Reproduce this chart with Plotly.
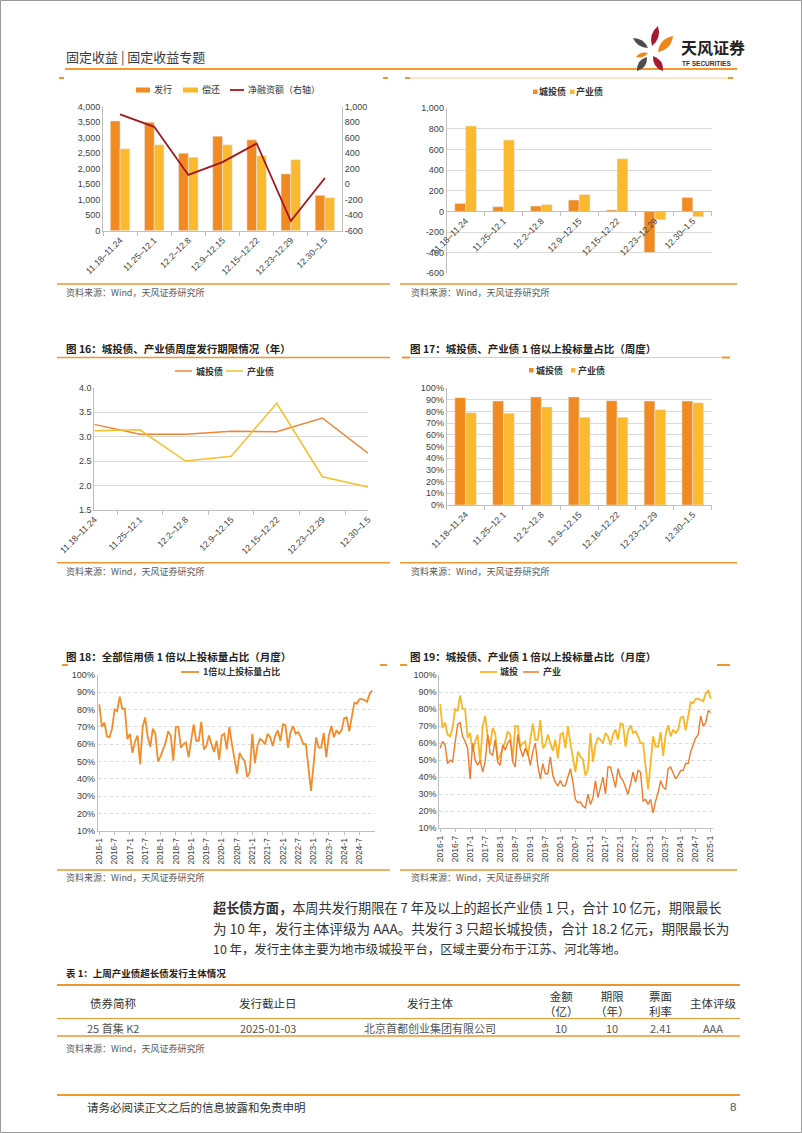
import plotly.graph_objects as go

W, H = 802, 1133
def fx(p): return p / W
def fy(p): return 1 - p / H

NUM = "Liberation Sans, Noto Sans CJK SC, sans-serif"
CJK = "Noto Sans CJK SC, Noto Sans, sans-serif"

C_ORANGE = "#F08A21"
C_YELLOW = "#FBB92F"
C_RED = "#A3161D"
C_LINE_OR = "#EE8434"
C_LINE_YE = "#F9BE2A"
C_AXIS = "#BFBFBF"
C_GRID = "#D9D9D9"
C_TICK = "#404040"
C_RULE = "#F0962E"
C_SRC = "#595959"

# ---------------- data ----------------
weeks_a = ["11.18–11.24", "11.25–12.1", "12.2–12.8", "12.9–12.15", "12.15–12.22", "12.23–12.29", "12.30–1.5"]
weeks_b = ["11.18–11.24", "11.25–12.1", "12.2–12.8", "12.9–12.15", "12.16–12.22", "12.23–12.29", "12.30–1.5"]

issue = [3540, 3500, 2500, 3050, 2930, 1830, 1140]
repay = [2640, 2770, 2370, 2770, 2420, 2290, 1065]
net_fin = [900, 740, 120, 285, 525, -475, 80]

ct_net = [77, 45, 52, 110, 13, -398, 136]
cy_net = [828, 692, 68, 165, 511, -81, -52]

ct_term = [3.25, 3.05, 3.05, 3.11, 3.10, 3.38, 2.66]
cy_term = [3.12, 3.14, 2.50, 2.60, 3.68, 2.18, 1.97]

ct_ratio_w = [92.0, 89.1, 92.6, 92.6, 89.4, 89.1, 89.1]
cy_ratio_w = [79.1, 78.6, 84.0, 75.1, 75.1, 81.7, 87.7]

months = [f"{y}-{m}" for y in range(2016, 2026) for m in range(1, 13)][:109]

all_ratio_m = [
    83, 70, 72.5, 64.5, 64, 69, 80, 79, 87.5, 80.5, 80.5, 63,
    66, 55, 61.5, 65, 48.5, 70, 75.5, 64, 58.5, 69, 66, 50,
    53, 57, 61, 67.5, 65, 50.5, 70, 70, 58, 60, 61, 52.5,
    61, 71.5, 62, 62, 73, 57, 59, 65, 60, 55.5, 62, 51,
    65, 66, 57, 70, 60, 52, 43, 55, 52, 50.5, 41, 44,
    66, 49, 59, 63, 62, 60, 66, 64, 59, 65, 68, 62,
    71.5, 71, 58, 67, 70.5, 66, 67, 64, 60, 60, 46, 33,
    48, 64, 58, 58, 66.5, 52.5, 65, 70.5, 64, 68, 66, 68,
    75, 75.5, 67.5, 76, 84, 83.5, 86, 86, 85.5, 84.5, 89, 91,
]

ct_ratio_m = [
    83, 69, 72, 65, 64, 69, 80, 79, 88, 80, 80, 63,
    66, 55, 61, 65, 48.5, 70, 76, 64, 58.5, 69, 66, 50,
    53, 57, 61, 67, 65, 50.5, 70, 70, 58, 60, 61, 52.5,
    61, 71.5, 62, 62, 73.5, 57, 59, 65, 60, 55.5, 62, 51,
    65, 66, 57, 70, 60, 52, 43, 55, 52, 50.5, 41, 44.5,
    66, 49, 59, 63, 62, 60, 66, 64, 59, 65, 68, 62,
    71.5, 71, 58, 67, 70.5, 66, 67, 64, 60, 60, 46, 33,
    48, 64, 58, 58, 66.5, 52.5, 65, 70.5, 64, 68, 66, 68,
    75, 75.5, 67.5, 76, 84, 83.5, 86, 86, 85.5, 84.5, 89, 91,
    86,
]

cy_ratio_m = [
    57, 61, 59, 48, 50, 49, 60, 71, 72, 64, 61, 57,
    39, 60, 50, 47, 50, 43, 49, 65, 54, 53, 62, 49,
    47, 59, 56, 60, 62, 49, 46, 65, 57, 52, 57, 54,
    47, 55, 60, 47, 39, 48, 42, 42, 52, 41, 37, 35,
    38, 35, 35, 40, 45, 37, 27, 25, 25.5, 23, 22, 30,
    24, 28, 38, 28, 35, 40, 30, 46, 46, 40, 34, 45,
    40, 38, 34, 30, 36, 43, 37, 44, 43, 26, 27, 24,
    27, 19, 26, 31, 38, 34, 33, 45, 46, 42, 39, 41,
    44, 44, 48, 48, 55, 59, 63, 65, 76, 70, 72, 79,
    78,
]

left_ticks1 = [0, 500, 1000, 1500, 2000, 2500, 3000, 3500, 4000]
right_ticks1 = [-600, -400, -200, 0, 200, 400, 600, 800, 1000]
ticks2 = [-600, -400, -200, 0, 200, 400, 600, 800, 1000]

table_head = ["债券简称", "发行截止日", "发行主体", "金额<br>（亿）", "期限<br>（年）", "票面<br>利率", "主体评级"]
table_row = ["25 首集 K2", "2025-01-03", "北京首都创业集团有限公司", "10", "10", "2.41", "AAA"]

# ---------------- traces ----------------
fig = go.Figure()
fig.add_trace(go.Bar(x=weeks_a, y=issue, marker_color=C_ORANGE, xaxis="x", yaxis="y", name="发行"))
fig.add_trace(go.Bar(x=weeks_a, y=repay, marker_color=C_YELLOW, xaxis="x", yaxis="y", name="偿还"))
fig.add_trace(go.Scatter(x=weeks_a, y=net_fin, mode="lines", line=dict(color=C_RED, width=1.8),
                         xaxis="x", yaxis="y2", name="净融资额（右轴）"))

fig.add_trace(go.Bar(x=weeks_a, y=ct_net, marker_color=C_ORANGE, xaxis="x2", yaxis="y3", name="城投债"))
fig.add_trace(go.Bar(x=weeks_a, y=cy_net, marker_color=C_YELLOW, xaxis="x2", yaxis="y3", name="产业债"))

fig.add_trace(go.Scatter(x=weeks_a, y=ct_term, mode="lines", line=dict(color=C_LINE_OR, width=1.5),
                         xaxis="x3", yaxis="y4", name="城投债"))
fig.add_trace(go.Scatter(x=weeks_a, y=cy_term, mode="lines", line=dict(color=C_LINE_YE, width=1.5),
                         xaxis="x3", yaxis="y4", name="产业债"))

fig.add_trace(go.Bar(x=weeks_b, y=ct_ratio_w, marker_color=C_ORANGE, xaxis="x4", yaxis="y5", name="城投债"))
fig.add_trace(go.Bar(x=weeks_b, y=cy_ratio_w, marker_color=C_YELLOW, xaxis="x4", yaxis="y5", name="产业债"))

fig.add_trace(go.Scatter(x=months[:len(all_ratio_m)], y=all_ratio_m, mode="lines",
                         line=dict(color="#F28C28", width=1.8), xaxis="x5", yaxis="y6", name="1倍以上投标量占比"))

fig.add_trace(go.Scatter(x=months[:len(ct_ratio_m)], y=ct_ratio_m, mode="lines",
                         line=dict(color="#F9B625", width=1.8), xaxis="x6", yaxis="y7", name="城投"))
fig.add_trace(go.Scatter(x=months[:len(cy_ratio_m)], y=cy_ratio_m, mode="lines",
                         line=dict(color="#EE7B2A", width=1.4), xaxis="x6", yaxis="y7", name="产业"))

# ---------------- axes ----------------
def xax(d0, d1, anchor, **kw):
    base = dict(domain=[fx(d0), fx(d1)], anchor=anchor, type="category", showgrid=False, zeroline=False,
                showline=True, linecolor=C_AXIS, linewidth=1, automargin=False,
                tickfont=dict(size=8.8, color=C_TICK, family=NUM),
                ticks="outside", ticklen=4, tickcolor=C_AXIS)
    base.update(kw)
    return base

def yax(top, bottom, anchor, **kw):
    base = dict(domain=[fy(bottom), fy(top)], anchor=anchor, zeroline=False, showline=True,
                linecolor=C_AXIS, linewidth=1, ticks="", automargin=False,
                tickfont=dict(size=9, color=C_TICK, family=NUM), showgrid=False)
    base.update(kw)
    return base

y2_rng = [-600, 1000]
c2_top, c2_bot = 108.3, 273.3
zero_px = c2_bot - (0 - y2_rng[0]) / (y2_rng[1] - y2_rng[0]) * (c2_bot - c2_top)

layout = dict(
    width=W, height=H, margin=dict(l=0, r=0, t=0, b=0, pad=0, autoexpand=False),
    paper_bgcolor="white", plot_bgcolor="rgba(0,0,0,0)",
    showlegend=False, barmode="group", bargap=0.43, bargroupgap=0,
    font=dict(family=NUM, size=9, color=C_TICK),
    # chart 1
    xaxis=xax(103, 342, "y", tickangle=-45, tickson="boundaries"),
    yaxis=yax(106.7, 230.7, "x", range=[0, 4000], tickvals=left_ticks1,
              ticktext=[f"{v:,}" for v in left_ticks1]),
    yaxis2=dict(overlaying="y", side="right", anchor="x", range=[-600, 1000], tickvals=right_ticks1,
                ticktext=[f"{v:,}" for v in right_ticks1], showline=True, linecolor=C_AXIS,
                showgrid=False, zeroline=False, automargin=False,
                tickfont=dict(size=9, color=C_TICK, family=NUM)),
    # chart 2
    xaxis2=xax(446.7, 711.7, "free", position=fy(zero_px), tickangle=-45, tickson="boundaries"),
    yaxis3=yax(c2_top, c2_bot, "x2", range=y2_rng, tickvals=ticks2,
               ticktext=[f"{v:,}" for v in ticks2], showgrid=True, gridcolor=C_GRID),
    # chart 3
    xaxis3=xax(94.3, 368, "y4", tickangle=-45, tickson="boundaries"),
    yaxis4=yax(387.7, 510, "x3", range=[1.5, 4.0], dtick=0.5, tickformat=".1f",
               showgrid=True, gridcolor=C_GRID),
    # chart 4
    xaxis4=xax(446.7, 711.7, "y5", tickangle=-45, tickson="boundaries"),
    yaxis5=yax(388.3, 505, "x4", range=[0, 100], dtick=10, ticksuffix="%",
               showgrid=True, gridcolor=C_GRID),
    # chart 5
    xaxis5=xax(97.7, 375, "y6", tickangle=-90, range=[-0.63, 108.1], tickvals=months[0:108:6],
               ticklen=3, tickfont=dict(size=8.5, color=C_TICK, family=NUM)),
    yaxis6=yax(675, 830.7, "x5", range=[10, 100], dtick=10, ticksuffix="%",
               showgrid=True, gridcolor=C_GRID, griddash="dot"),
    # chart 6
    xaxis6=xax(439.3, 713, "y7", tickangle=-90, range=[-0.3, 108.9], tickvals=months[0:109:6],
               ticklen=3, tickfont=dict(size=8.5, color=C_TICK, family=NUM)),
    yaxis7=yax(675, 828.3, "x6", range=[10, 100], dtick=10, ticksuffix="%",
               showgrid=True, gridcolor=C_GRID, griddash="dot"),
)

shapes = []
annotations = []

def hline(x0, x1, y, color=C_RULE, w=1.5):
    shapes.append(dict(type="line", xref="paper", yref="paper", x0=fx(x0), x1=fx(x1),
                       y0=fy(y), y1=fy(y), line=dict(color=color, width=w)))

def rect(x0, x1, y0, y1, color):
    shapes.append(dict(type="rect", xref="paper", yref="paper", x0=fx(x0), x1=fx(x1),
                       y0=fy(y1), y1=fy(y0), fillcolor=color, line=dict(width=0)))

def txt(x, y, s, size=9, color="#333333", weight="normal", xanchor="left", family=CJK, yanchor="middle"):
    annotations.append(dict(x=fx(x), y=fy(y), xref="paper", yref="paper", text=s, showarrow=False,
                            xanchor=xanchor, yanchor=yanchor, align="center", borderpad=0,
                            font=dict(size=size, color=color, family=family, weight=weight)))

def leaf(p1, p2, w, color):
    (x1, y1), (x2, y2) = p1, p2
    mx, my = (x1 + x2) / 2, (y1 + y2) / 2
    dx, dy = x2 - x1, y2 - y1
    L = (dx * dx + dy * dy) ** 0.5
    nx, ny = -dy / L * w, dx / L * w
    pts = [(x1, y1), (mx + nx, my + ny), (x2, y2), (mx - nx, my - ny)]
    P = [(fx(a), fy(b)) for a, b in pts]
    path = (f"M{P[0][0]},{P[0][1]} Q{P[1][0]},{P[1][1]} {P[2][0]},{P[2][1]} "
            f"Q{P[3][0]},{P[3][1]} {P[0][0]},{P[0][1]} Z")
    shapes.append(dict(type="path", xref="paper", yref="paper", path=path, fillcolor=color,
                       line=dict(width=0)))

# page border
shapes.append(dict(type="rect", xref="paper", yref="paper", x0=fx(0.5), x1=fx(801.5), y0=fy(1132.5),
                   y1=fy(0.5), line=dict(color="#9A9A9A", width=1)))

# header
txt(65, 57, "固定收益 | 固定收益专题", size=13, color="#3A3A3A")
hline(65, 737, 69, color="#F39A2B", w=2)
leaf((652, 46), (658, 26), 7, "#A6192E")
leaf((658, 52), (673, 36), 8, "#F08519")
leaf((648, 48), (633, 38), 6, "#4D4D4F")
leaf((648, 53), (636, 57), 4, "#F08519")
leaf((647, 57), (637, 71), 7, "#4D4D4F")
leaf((653, 56), (663, 71), 7, "#A6192E")
txt(680, 47, "天风证券", size=16, color="#222222", weight="bold")
txt(681, 63, "TF SECURITIES", size=6.5, color="#333333", weight="bold", family=NUM)

# top row frame marks
hline(59, 64, 78, w=2)
hline(383, 388, 78, w=2)
hline(405, 733, 78, color="#F7C89A", w=1)
hline(405, 410, 78, w=2)
hline(728, 733, 78, w=2)

# chart 1 legend
rect(136, 150, 87.5, 92.5, C_ORANGE)
txt(153, 90, "发行", size=9)
rect(183, 198, 87.5, 92.5, C_YELLOW)
txt(201, 90, "偿还", size=9)
hline(230, 244, 90, color=C_RED, w=1.8)
txt(247, 90, "净融资额（右轴）", size=9)

# chart 2 legend
rect(533, 537.5, 89.5, 94, C_ORANGE)
txt(538, 91.7, "城投债", size=9, weight="bold")
rect(570, 574.5, 89.5, 94, C_YELLOW)
txt(575, 91.7, "产业债", size=9, weight="bold")

# sources row 1
hline(57, 390, 284)
hline(400, 737, 284)
txt(65, 292, "资料来源：Wind，天风证券研究所", size=9, color=C_SRC)
txt(410, 292, "资料来源：Wind，天风证券研究所", size=9, color=C_SRC)

# titles row 2
txt(65, 348, "图 16：城投债、产业债周度发行期限情况（年）", size=10.5, color="#222222", weight="bold")
txt(409, 348, "图 17：城投债、产业债 1 倍以上投标量占比（周度）", size=10.5, color="#222222", weight="bold")
hline(57, 390, 357.5)
hline(402, 730, 357.5, color="#F7C89A", w=1)
hline(402, 410, 357.5, w=2)
hline(722, 730, 357.5, w=2)

# chart 3 legend
hline(175, 192, 371, color=C_LINE_OR, w=1.5)
txt(195, 371, "城投债", size=9, weight="bold")
hline(226, 243, 371, color=C_LINE_YE, w=1.5)
txt(246, 371, "产业债", size=9, weight="bold")

# chart 4 legend
rect(529, 533.5, 368, 372.5, C_ORANGE)
txt(535, 370, "城投债", size=9, weight="bold")
rect(571, 575.5, 368, 372.5, C_YELLOW)
txt(577, 370, "产业债", size=9, weight="bold")

# sources row 2
hline(57, 390, 562.7)
hline(400, 737, 562.7)
txt(65, 571, "资料来源：Wind，天风证券研究所", size=9, color=C_SRC)
txt(410, 571, "资料来源：Wind，天风证券研究所", size=9, color=C_SRC)

# titles row 3
txt(65, 656.5, "图 18：全部信用债 1 倍以上投标量占比（月度）", size=10.5, color="#222222", weight="bold")
txt(409, 656.5, "图 19：城投债、产业债 1 倍以上投标量占比（月度）", size=10.5, color="#222222", weight="bold")
hline(62, 68, 665, w=2)
hline(380, 387, 665, w=2)
hline(400, 407, 665, w=2)
hline(717, 730, 665, w=2)

# chart 5 legend
hline(181, 199, 672, color="#F28C28", w=1.8)
txt(202, 672, "1倍以上投标量占比", size=9, weight="bold")

# chart 6 legend
hline(480, 497, 672, color="#F9B625", w=1.8)
txt(499, 672, "城投", size=9, weight="bold")
hline(523, 539, 672, color="#EE7B2A", w=1.5)
txt(542, 672, "产业", size=9, weight="bold")

# sources row 3
hline(57, 390, 870)
hline(400, 737, 870)
txt(65, 877, "资料来源：Wind，天风证券研究所", size=9, color=C_SRC)
txt(410, 877, "资料来源：Wind，天风证券研究所", size=9, color=C_SRC)

# paragraph (first two lines are justified in the original -> slightly larger size to fill width)
para = [
    ("<b>超长债方面，</b>本周共发行期限在 7 年及以上的超长产业债 1 只，合计 10 亿元，期限最长", 13.2),
    ("为 10 年，发行主体评级为 AAA。共发行 3 只超长城投债，合计 18.2 亿元，期限最长为", 13.6),
    ("10 年，发行主体主要为地市级城投平台，区域主要分布于江苏、河北等地。", 12.4),
]
for i, (line, sz) in enumerate(para):
    txt(212, 907 + 21 * i, line, size=sz, color="#333333")

# table
txt(65, 973, "表 1：上周产业债超长债发行主体情况", size=9.5, color="#222222", weight="bold")
hline(57, 740, 985, w=2)
col_x = [113, 268, 430, 561, 612, 660, 713]
for cx, h in zip(col_x, table_head):
    txt(cx, 1003, h, size=11.5, color="#333333", xanchor="center")
hline(57, 740, 1018.5, w=1)
for cx, v in zip(col_x, table_row):
    txt(cx, 1027.5, v, size=11, color="#555555", xanchor="center")
hline(57, 740, 1036, w=1.5)
txt(65, 1048, "资料来源：Wind，天风证券研究所", size=9, color=C_SRC)

# footer
hline(57, 740, 1095, color="#F39A2B", w=2)
txt(86, 1107, "请务必阅读正文之后的信息披露和免责申明", size=11.5, color="#333333")
txt(737, 1107, "8", size=11.5, color="#555555", xanchor="right", family=NUM)

layout["shapes"] = shapes
layout["annotations"] = annotations
fig.update_layout(**layout)
fig.write_html("out.html", config={"displayModeBar": False},
               post_script="document.body.style.margin='0';document.body.style.overflow='hidden';")
